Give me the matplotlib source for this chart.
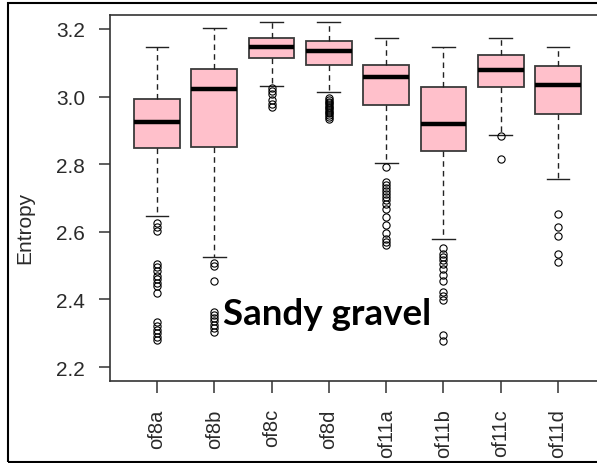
import matplotlib
matplotlib.use("Agg")
import matplotlib.pyplot as plt
from matplotlib.patches import Rectangle

# sample names and five-number summaries of entropy per sample
samples = ["of8a", "of8b", "of8c", "of8d", "of11a", "of11b", "of11c", "of11d"]
whisker_low = [2.647, 2.524, 3.030, 3.014, 2.804, 2.579, 2.886, 2.756]
q1 = [2.848, 2.851, 3.114, 3.094, 2.976, 2.840, 3.028, 2.948]
median = [2.925, 3.022, 3.147, 3.135, 3.058, 2.920, 3.079, 3.034]
q3 = [2.993, 3.082, 3.174, 3.164, 3.094, 3.028, 3.123, 3.090]
whisker_high = [3.147, 3.203, 3.220, 3.220, 3.174, 3.147, 3.174, 3.147]

outliers = [
    [2.626, 2.615, 2.603, 2.505, 2.495, 2.485, 2.47, 2.46, 2.45, 2.44, 2.42,
     2.333, 2.32, 2.31, 2.30, 2.29, 2.28],
    [2.508, 2.499, 2.454, 2.363, 2.355, 2.345, 2.335, 2.325, 2.315, 2.305],
    [3.025, 3.017, 3.008, 2.99, 2.978, 2.97],
    [2.995, 2.99, 2.985, 2.98, 2.975, 2.97, 2.965, 2.96, 2.955, 2.95, 2.945,
     2.94, 2.935],
    [2.792, 2.747, 2.738, 2.730, 2.721, 2.712, 2.703, 2.694, 2.682, 2.667,
     2.644, 2.620, 2.596, 2.579, 2.570, 2.561],
    [2.552, 2.534, 2.525, 2.517, 2.505, 2.490, 2.472, 2.454, 2.422, 2.410,
     2.398, 2.295, 2.277],
    [2.883, 2.815],
    [2.653, 2.614, 2.588, 2.534, 2.51],
]

stats = []
for i, name in enumerate(samples):
    stats.append(dict(label=name, med=median[i], q1=q1[i], q3=q3[i],
                      whislo=whisker_low[i], whishi=whisker_high[i],
                      fliers=outliers[i]))

W, H = 597, 464
fig = plt.figure(figsize=(W / 100, H / 100), dpi=100)
ax = fig.add_axes([110 / W, (H - 382) / H, 495 / W, 366 / H])

ax.bxp(stats, positions=range(1, 9), widths=0.8, capwidths=0.4,
       patch_artist=True,
       boxprops=dict(facecolor="#ffc0cb", edgecolor="#3a3a3a", linewidth=1.3),
       medianprops=dict(color="black", linewidth=3.2, solid_capstyle="butt"),
       whiskerprops=dict(color="#222222", linewidth=1.0, linestyle=(0, (4, 3))),
       capprops=dict(color="#222222", linewidth=1.0),
       flierprops=dict(marker="o", markerfacecolor="none",
                       markeredgecolor="black", markersize=5.2,
                       markeredgewidth=0.8))

ax.set_xlim(0.18, 8.82)
ax.set_ylim(2.1586, 3.2414)
ax.set_yticks([2.2, 2.4, 2.6, 2.8, 3.0, 3.2])
ax.set_yticklabels(["2.2", "2.4", "2.6", "2.8", "3.0", "3.2"])
ax.set_xticks(range(1, 9))
ax.set_xticklabels(samples, rotation=90)

tick_color = "#2a2a2a"
for side in ["left", "bottom", "top", "right"]:
    ax.spines[side].set_color("#333333")
    ax.spines[side].set_linewidth(1.2)
ax.tick_params(axis="y", length=8, width=1.1, pad=10, labelsize=15,
               colors="#333333", labelcolor=tick_color)
ax.tick_params(axis="x", length=8.6, width=1.1, pad=11, labelsize=14.5,
               colors="#333333", labelcolor=tick_color)
for lbl in ax.get_xticklabels() + ax.get_yticklabels():
    lbl.set_fontfamily("Liberation Sans")

ax.set_ylabel("Entropy", fontsize=15, family="Liberation Sans",
              color=tick_color)
ax.yaxis.set_label_coords(-76 / 495, 0.42)

ax.text(2.152, 2.327, "Sandy gravel", fontsize=26.5, fontweight="bold",
        family="Lato", ha="left", va="baseline", color="black")

# outer frame round the whole panel
fig.patches.append(Rectangle((8 / W, 1 / H), 1.2, 459 / H, transform=fig.transFigure,
                             fill=False, edgecolor="black", linewidth=1.5))

fig.savefig("out.png", dpi=100)
